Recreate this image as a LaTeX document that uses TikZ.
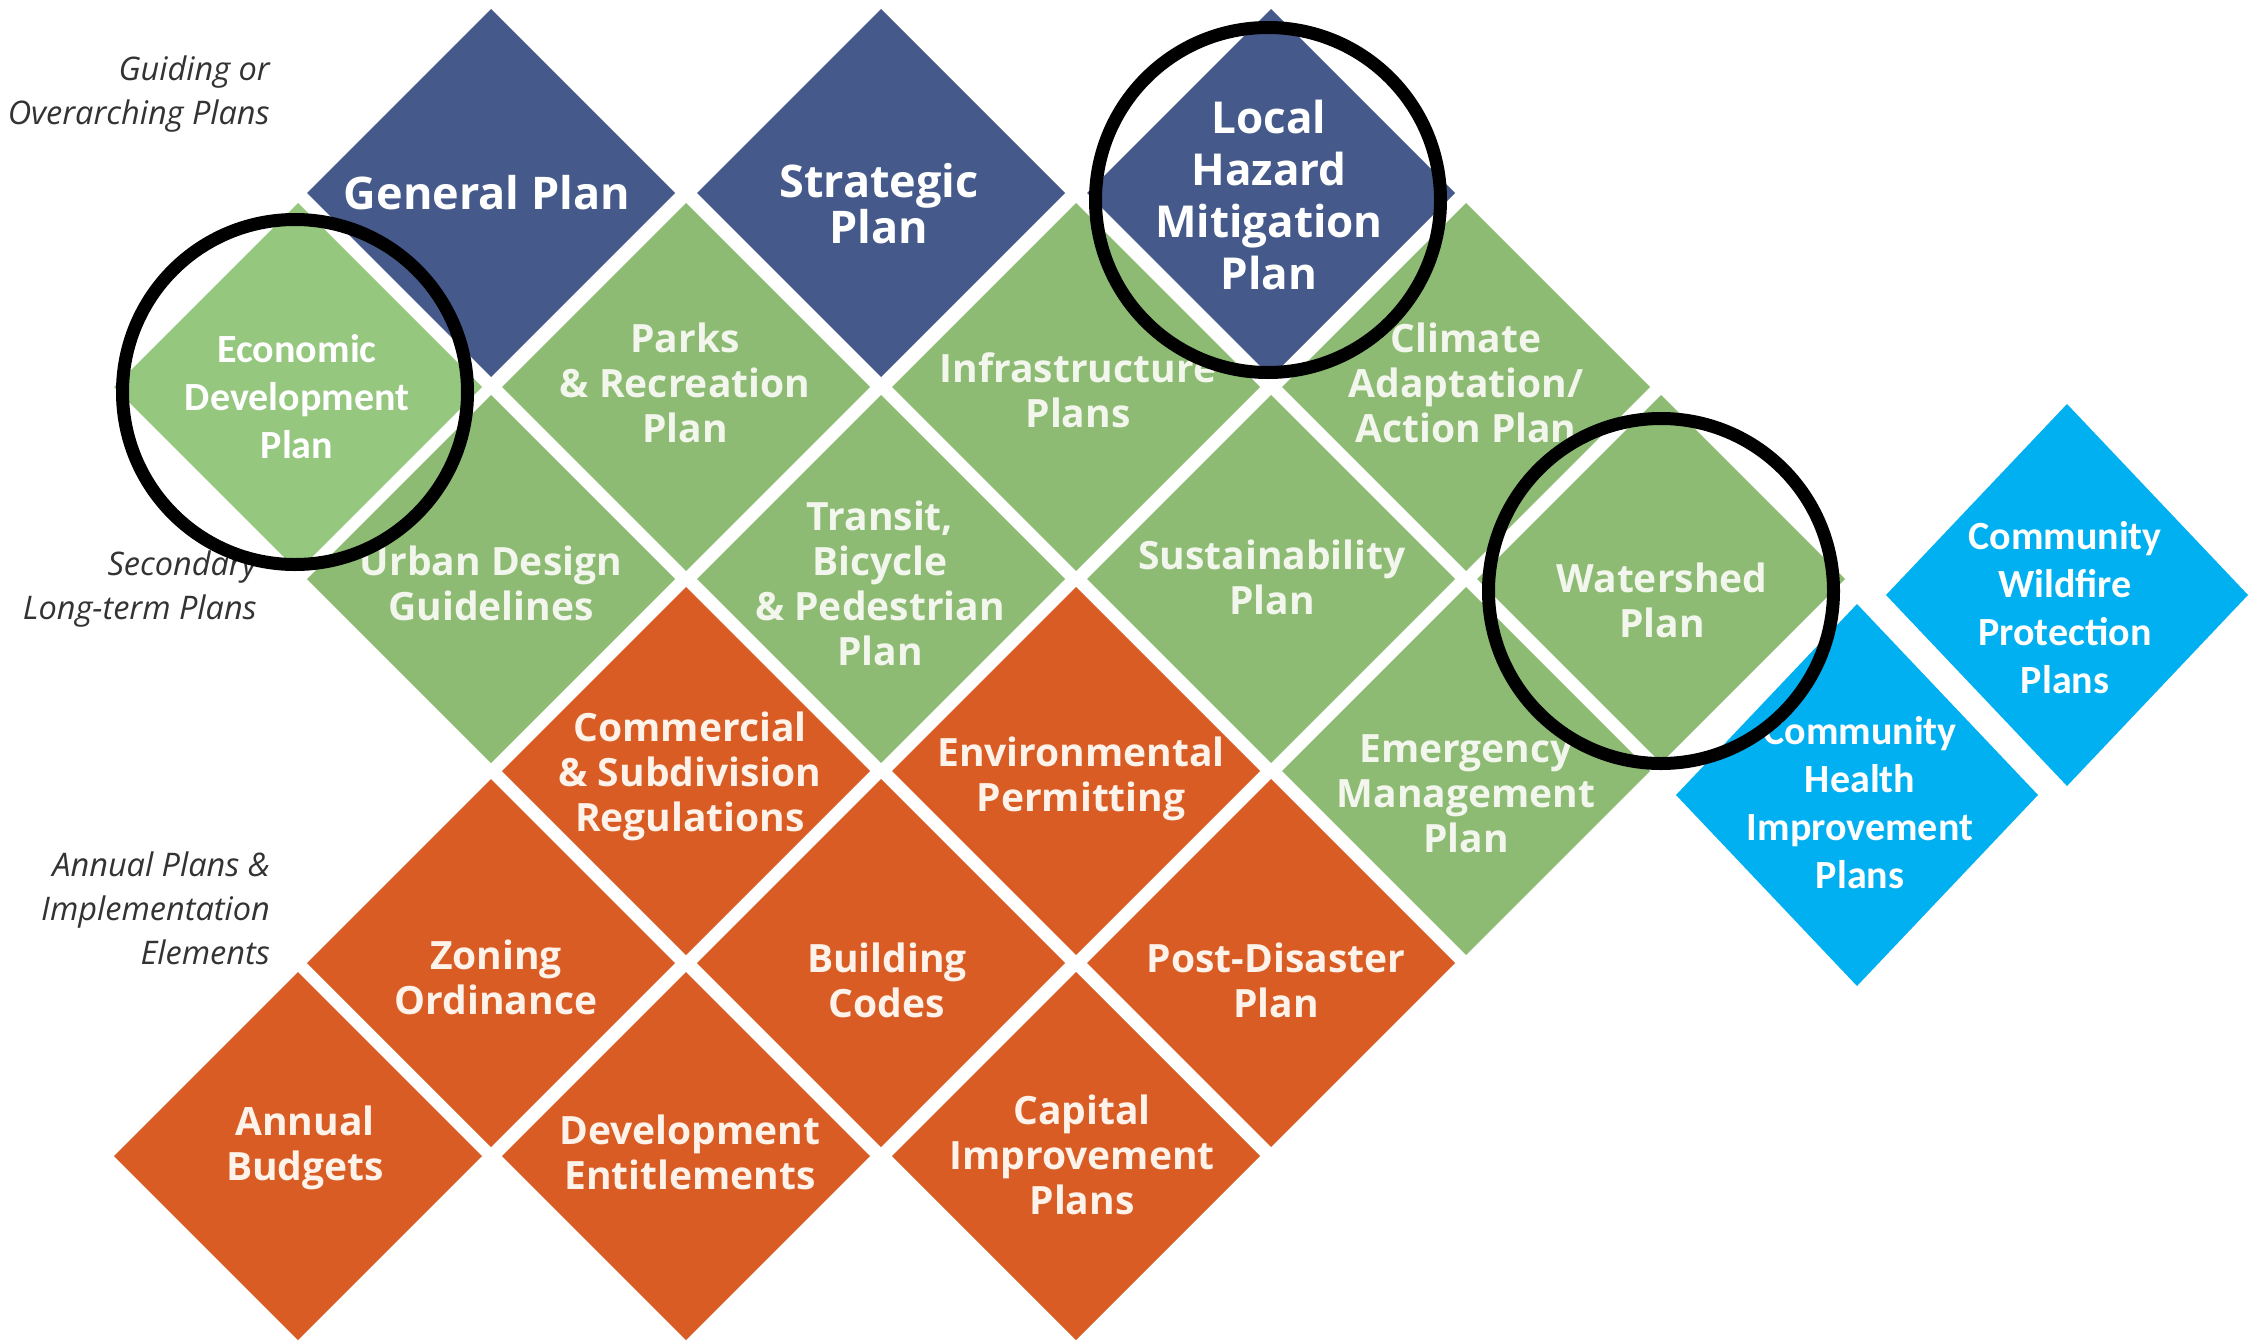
\documentclass[tikz,border=0pt]{standalone}
\usepackage{fontspec}
\setmainfont{Open Sans}
\newfontfamily\calfont{Carlito}
\usetikzlibrary{shapes.geometric}
\definecolor{navy}{HTML}{455A8B}
\definecolor{lgreen}{HTML}{8DBB74}
\definecolor{edgreen}{HTML}{95C77F}
\definecolor{orng}{HTML}{D95C24}
\definecolor{cyanb}{HTML}{00B0F0}
\definecolor{gtext}{HTML}{F2F6EC}
\definecolor{otext}{HTML}{FDF3EA}
\definecolor{lbltext}{HTML}{333333}
\begin{document}
\begin{tikzpicture}[x=1pt,y=-1pt,
  dia/.style={diamond, aspect=1, inner sep=0pt, outer sep=0pt, minimum width=368pt, minimum height=368pt},
  bluedia/.style={diamond, inner sep=0pt, outer sep=0pt, minimum width=362pt, minimum height=382pt, fill=cyanb},
  toptxt/.style={text=white, font=\bfseries\fontsize{45}{44}\selectfont, align=center, inner sep=0pt},
  midtxt/.style={text=gtext, font=\bfseries\fontsize{39}{45}\selectfont, align=center, inner sep=0pt},
  lowtxt/.style={text=otext, font=\bfseries\fontsize{39}{45}\selectfont, align=center, inner sep=0pt},
  caltxt/.style={text=white, font=\calfont\bfseries\fontsize{40}{48}\selectfont, align=center, inner sep=0pt},
  lbl/.style={text=lbltext, font=\itshape\fontsize{32.5}{44}\selectfont, align=right, inner sep=0pt, anchor=east},
  ring/.style={circle, draw=black, line width=13pt, minimum size=345pt, inner sep=0pt}
]
\fill[white] (0,0) rectangle (2253,1341);
\useasboundingbox (0,0) rectangle (2253,1341);

% guiding plans (row 1)
\node[dia, fill=navy] (gp) at (491,193) {};
\node[dia, fill=navy] (sp) at (881,193) {};
\node[dia, fill=navy] (lh) at (1271,193) {};
% secondary plans (rows 2-4)
\node[dia, fill=edgreen] (ed) at (298,387) {};
\node[dia, fill=lgreen] (pk) at (686,387) {};
\node[dia, fill=lgreen] (inf) at (1076,387) {};
\node[dia, fill=lgreen] (cl) at (1466,387) {};
\node[dia, fill=lgreen] (ud) at (491,579) {};
\node[dia, fill=lgreen] (tr) at (881,579) {};
\node[dia, fill=lgreen] (su) at (1271,579) {};
\node[dia, fill=lgreen] (ws) at (1661,579) {};
\node[dia, fill=lgreen] (em) at (1466,771) {};
% implementation (rows 4-6)
\node[dia, fill=orng] (cs) at (686,771) {};
\node[dia, fill=orng] (ep) at (1076,771) {};
\node[dia, fill=orng] (zo) at (491,963) {};
\node[dia, fill=orng] (bc) at (881,963) {};
\node[dia, fill=orng] (pd) at (1271,963) {};
\node[dia, fill=orng] (ab) at (298,1156) {};
\node[dia, fill=orng] (de) at (686,1156) {};
\node[dia, fill=orng] (ci) at (1076,1156) {};
% community plans
\node[bluedia] (cw) at (2067,595) {};
\node[bluedia] (ch) at (1857,795) {};

% texts
\node[toptxt] (gpt) at (487,193) {General Plan};
\node[toptxt] (spt) at (879,204) {Strategic\\Plan};
\node[toptxt, font=\bfseries\fontsize{44}{52}\selectfont] (lht) at (1269,195) {Local\\Hazard\\Mitigation\\Plan};
\node[caltxt] (edt) at (297,397) {Economic\\Development\\Plan};
\node[midtxt] (pkt) at (685,383) {Parks\\\& Recreation\\Plan};
\node[midtxt] (inft) at (1078,390) {Infrastructure\\Plans};
\node[midtxt] (clt) at (1466,383) {Climate\\Adaptation/\\Action Plan};
\node[midtxt] (udt) at (491,583) {Urban Design\\Guidelines};
\node[midtxt] (trt) at (880,583) {Transit,\\Bicycle\\\& Pedestrian\\Plan};
\node[midtxt] (sut) at (1272,577) {Sustainability\\Plan};
\node[midtxt] (wst) at (1662,600) {Watershed\\Plan};
\node[midtxt] (emt) at (1466,794) {Emergency\\Management\\Plan};
\node[lowtxt] (cst) at (690,776) {Commercial\\\& Subdivision\\Regulations};
\node[lowtxt] (ept) at (1081,779) {Environmental\\Permitting};
\node[lowtxt] (zot) at (496,977) {Zoning\\Ordinance};
\node[lowtxt] (bct) at (887,980) {Building\\Codes};
\node[lowtxt] (pdt) at (1276,980) {Post-Disaster\\Plan};
\node[lowtxt] (abt) at (305,1148) {Annual\\Budgets};
\node[lowtxt] (det) at (690,1152) {Development\\Entitlements};
\node[lowtxt] (cit) at (1082,1155) {Capital\\Improvement\\Plans};
\node[caltxt] (cwt) at (2065,608) {Community\\Wildfire\\Protection\\Plans};
\node[caltxt] (cht) at (1860,803) {Community\\Health\\Improvement\\Plans};

% row labels
\node[lbl] (l1) at (270,94) {Guiding or\\Overarching Plans};
\node[lbl] (l2) at (257,589) {Secondary\\Long-term Plans};
\node[lbl] (l3) at (270,908) {Annual Plans \&\\Implementation\\Elements};

% highlight rings
\node[ring] (r1) at (295,392) {};
\node[ring] (r2) at (1268,200) {};
\node[ring] (r3) at (1661,591) {};
\end{tikzpicture}
\end{document}
